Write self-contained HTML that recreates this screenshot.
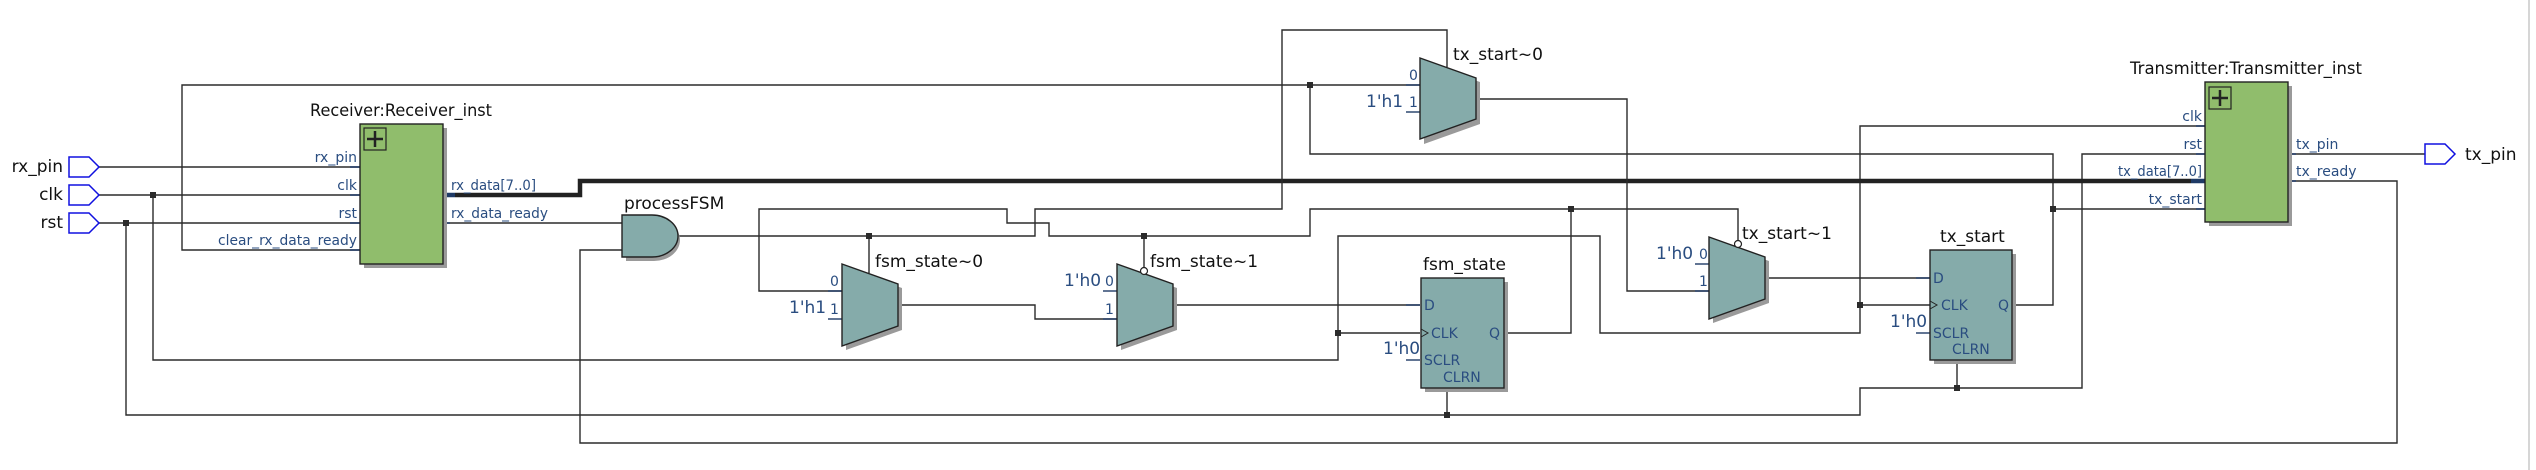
<!DOCTYPE html>
<html><head><meta charset="utf-8"><style>
html,body{margin:0;padding:0;background:#fff;width:2536px;height:470px;overflow:hidden}
svg{display:block}
text{font-family:"DejaVu Sans","Liberation Sans",sans-serif}
.w{stroke:#2b2b2b;stroke-width:1.4;fill:none}
.s{stroke:#1f3a66;stroke-width:1.4;fill:none}
.pl{fill:#2a4d80;font-size:14px}
.t{fill:#111;font-size:17px}
.c{fill:#2a4d80;font-size:17px}
.mux{fill:#85abaa;stroke:#222;stroke-width:1.4}
.sh{fill:#9a9a9a}
</style></head><body>
<svg width="2536" height="470" viewBox="0 0 2536 470" xmlns="http://www.w3.org/2000/svg">
<!-- right border -->
<line x1="2529" y1="0" x2="2529" y2="470" stroke="#c8c8c8" stroke-width="1.5"/>

<!-- wires -->
<!-- tx_start net: top wire to clear_rx_data_ready -->
<polyline class="w" points="372,250 182,250 182,85 1420,85"/>
<polyline class="w" points="2012,305 2053,305 2053,154 1310,154 1310,85"/>
<polyline class="w" points="2053,209 2218,209"/>
<!-- rx_pin -->
<polyline class="w" points="99,167 372,167"/>
<!-- clk -->
<polyline class="w" points="99,195 372,195"/>
<polyline class="w" points="153,195 153,360 1338,360 1338,236 1600,236 1600,333 1860,333 1860,126 2218,126"/>
<polyline class="w" points="1338,333 1420,333"/>
<polyline class="w" points="1860,305 1930,305"/>
<!-- rst -->
<polyline class="w" points="99,223 372,223"/>
<polyline class="w" points="126,223 126,415 1860,415 1860,388 2082,388 2082,154 2218,154"/>
<polyline class="w" points="1447,388 1447,415"/>
<polyline class="w" points="1957,360 1957,388"/>
<!-- bus -->
<polyline points="455,195 580,195 580,181 2191,181" stroke="#222" stroke-width="4.5" fill="none"/>
<line x1="428" y1="195" x2="455" y2="195" stroke="#1f3a66" stroke-width="4.5"/>
<line x1="2191" y1="181" x2="2218" y2="181" stroke="#1f3a66" stroke-width="4.5"/>
<!-- rx_data_ready -->
<polyline class="w" points="428,223 622,223"/>
<!-- tx_ready loop -->
<polyline class="w" points="2274,181 2397,181 2397,443 580,443 580,250 622,250"/>
<!-- tx_pin -->
<polyline class="w" points="2274,154 2425,154"/>
<!-- AND out -->
<polyline class="w" points="678,236 1035,236 1035,209 1282,209 1282,30 1447,30 1447,67"/>
<polyline class="w" points="869,236 869,273"/>
<!-- fsm_state Q net -->
<polyline class="w" points="1504,333 1571,333 1571,209 1310,209 1310,236 1049,236 1049,223 1007,223 1007,209 759,209 759,291 842,291"/>
<polyline class="w" points="1571,209 1738,209 1738,241"/>
<polyline class="w" points="1144,236 1144,268"/>
<!-- mux chain -->
<polyline class="w" points="898,305 1035,305 1035,319 1117,319"/>
<polyline class="w" points="1173,305 1420,305"/>
<polyline class="w" points="1476,99 1627,99 1627,291 1709,291"/>
<polyline class="w" points="1765,278 1930,278"/>

<!-- pin stubs -->
<g class="s">
<line x1="350" y1="167" x2="372" y2="167"/><line x1="350" y1="195" x2="372" y2="195"/>
<line x1="350" y1="223" x2="372" y2="223"/><line x1="350" y1="250" x2="372" y2="250"/>
<line x1="428" y1="223" x2="450" y2="223"/>
<line x1="2196" y1="126" x2="2218" y2="126"/><line x1="2196" y1="154" x2="2218" y2="154"/>
<line x1="2196" y1="209" x2="2218" y2="209"/>
<line x1="2274" y1="154" x2="2296" y2="154"/><line x1="2274" y1="181" x2="2296" y2="181"/>
<line x1="1406" y1="85" x2="1420" y2="85"/><line x1="1406" y1="112" x2="1420" y2="112"/>
<line x1="828" y1="291" x2="842" y2="291"/><line x1="828" y1="319" x2="842" y2="319"/>
<line x1="1103" y1="291" x2="1117" y2="291"/><line x1="1103" y1="319" x2="1117" y2="319"/>
<line x1="1695" y1="264" x2="1709" y2="264"/><line x1="1695" y1="291" x2="1709" y2="291"/>
<line x1="1406" y1="305" x2="1420" y2="305"/><line x1="1406" y1="360" x2="1420" y2="360"/>
<line x1="1916" y1="278" x2="1930" y2="278"/><line x1="1916" y1="333" x2="1930" y2="333"/>
</g>

<!-- junction dots -->
<g fill="#2b2b2b">
<rect x="150" y="192" width="6" height="6"/><rect x="123" y="220" width="6" height="6"/>
<rect x="1307" y="82" width="6" height="6"/><rect x="866" y="233" width="6" height="6"/>
<rect x="1141" y="233" width="6" height="6"/><rect x="1568" y="206" width="6" height="6"/>
<rect x="1335" y="330" width="6" height="6"/><rect x="1444" y="412" width="6" height="6"/>
<rect x="1857" y="302" width="6" height="6"/><rect x="2050" y="206" width="6" height="6"/>
<rect x="1954" y="385" width="6" height="6"/>
</g>

<!-- IO ports -->
<g fill="none" stroke="#1010e0" stroke-width="1.5">
<polygon points="69,157 89,157 99,167 89,177 69,177"/>
<polygon points="69,185 89,185 99,195 89,205 69,205"/>
<polygon points="69,213 89,213 99,223 89,233 69,233"/>
<polygon points="2425,144 2445,144 2455,154 2445,164 2425,164"/>
</g>
<text class="t" x="63" y="172" text-anchor="end">rx_pin</text>
<text class="t" x="63" y="200" text-anchor="end">clk</text>
<text class="t" x="63" y="228" text-anchor="end">rst</text>
<text class="t" x="2465" y="160">tx_pin</text>

<!-- Receiver -->
<rect class="sh" x="364" y="128" width="83" height="140"/>
<rect x="360" y="124" width="83" height="140" fill="#90bd6c" stroke="#222" stroke-width="1.4"/>
<rect x="364" y="128" width="22" height="22" fill="none" stroke="#222" stroke-width="1.2"/>
<path d="M375 131 V147 M367 139 H383" stroke="#222" stroke-width="2.5"/>
<text class="t" x="310" y="116" textLength="182" lengthAdjust="spacingAndGlyphs">Receiver:Receiver_inst</text>
<g class="pl">
<text x="357" y="162" text-anchor="end">rx_pin</text>
<text x="357" y="190" text-anchor="end">clk</text>
<text x="357" y="218" text-anchor="end">rst</text>
<text x="357" y="245" text-anchor="end" textLength="139" lengthAdjust="spacingAndGlyphs">clear_rx_data_ready</text>
<text x="451" y="190" textLength="85" lengthAdjust="spacingAndGlyphs">rx_data[7..0]</text>
<text x="451" y="218" textLength="97" lengthAdjust="spacingAndGlyphs">rx_data_ready</text>
</g>

<!-- Transmitter -->
<rect class="sh" x="2209" y="86" width="83" height="140"/>
<rect x="2205" y="82" width="83" height="140" fill="#90bd6c" stroke="#222" stroke-width="1.4"/>
<rect x="2209" y="87" width="22" height="22" fill="none" stroke="#222" stroke-width="1.2"/>
<path d="M2220 90 V106 M2212 98 H2228" stroke="#222" stroke-width="2.5"/>
<text class="t" x="2130" y="74" textLength="232" lengthAdjust="spacingAndGlyphs">Transmitter:Transmitter_inst</text>
<g class="pl">
<text x="2202" y="121" text-anchor="end">clk</text>
<text x="2202" y="149" text-anchor="end">rst</text>
<text x="2202" y="176" text-anchor="end" textLength="84" lengthAdjust="spacingAndGlyphs">tx_data[7..0]</text>
<text x="2202" y="204" text-anchor="end">tx_start</text>
<text x="2296" y="149">tx_pin</text>
<text x="2296" y="176">tx_ready</text>
</g>

<!-- AND gate -->
<path class="sh" d="M626 219 H654 A26 21 0 0 1 654 261 H626 Z"/>
<path d="M622 215 H652 A26 21 0 0 1 652 257 H622 Z" fill="#85abaa" stroke="#222" stroke-width="1.4"/>
<text class="t" x="624" y="209">processFSM</text>

<!-- muxes -->
<polygon class="sh" points="846,268 902,288 902,330 846,350"/>
<polygon class="mux" points="842,264 898,284 898,326 842,346"/>
<polygon class="sh" points="1121,268 1177,288 1177,330 1121,350"/>
<polygon class="mux" points="1117,264 1173,284 1173,326 1117,346"/>
<polygon class="sh" points="1424,62 1480,82 1480,124 1424,144"/>
<polygon class="mux" points="1420,58 1476,78 1476,119 1420,139"/>
<polygon class="sh" points="1713,241 1769,261 1769,303 1713,323"/>
<polygon class="mux" points="1709,237 1765,257 1765,299 1709,319"/>
<circle cx="1144" cy="271" r="3.5" fill="#fff" stroke="#222" stroke-width="1.2"/>
<circle cx="1738" cy="244" r="3.5" fill="#fff" stroke="#222" stroke-width="1.2"/>
<g class="pl">
<text x="830" y="286">0</text><text x="830" y="314">1</text>
<text x="1105" y="286">0</text><text x="1105" y="314">1</text>
<text x="1409" y="80">0</text><text x="1409" y="107">1</text>
<text x="1699" y="259">0</text><text x="1699" y="286">1</text>
</g>
<g class="c">
<text x="789" y="313">1'h1</text>
<text x="1064" y="286">1'h0</text>
<text x="1366" y="107">1'h1</text>
<text x="1656" y="259">1'h0</text>
<text x="1383" y="354">1'h0</text>
<text x="1890" y="327">1'h0</text>
</g>
<text class="t" x="875" y="267">fsm_state~0</text>
<text class="t" x="1150" y="267">fsm_state~1</text>
<text class="t" x="1453" y="60">tx_start~0</text>
<text class="t" x="1742" y="239">tx_start~1</text>

<!-- fsm_state FF -->
<rect class="sh" x="1425" y="282" width="83" height="110"/>
<rect x="1421" y="278" width="83" height="110" fill="#85abaa" stroke="#222" stroke-width="1.4"/>
<polyline points="1421,329 1428,333 1421,337" fill="none" stroke="#222" stroke-width="1"/>
<text class="t" x="1423" y="270">fsm_state</text>
<g class="pl">
<text x="1424" y="310">D</text><text x="1431" y="338">CLK</text>
<text x="1424" y="365">SCLR</text><text x="1443" y="382">CLRN</text>
<text x="1489" y="338">Q</text>
</g>

<!-- tx_start FF -->
<rect class="sh" x="1934" y="254" width="82" height="110"/>
<rect x="1930" y="250" width="82" height="110" fill="#85abaa" stroke="#222" stroke-width="1.4"/>
<polyline points="1930,301 1937,305 1930,309" fill="none" stroke="#222" stroke-width="1"/>
<text class="t" x="1940" y="242">tx_start</text>
<g class="pl">
<text x="1933" y="283">D</text><text x="1941" y="310">CLK</text>
<text x="1933" y="338">SCLR</text><text x="1952" y="354">CLRN</text>
<text x="1998" y="310">Q</text>
</g>
</svg>
</body></html>
